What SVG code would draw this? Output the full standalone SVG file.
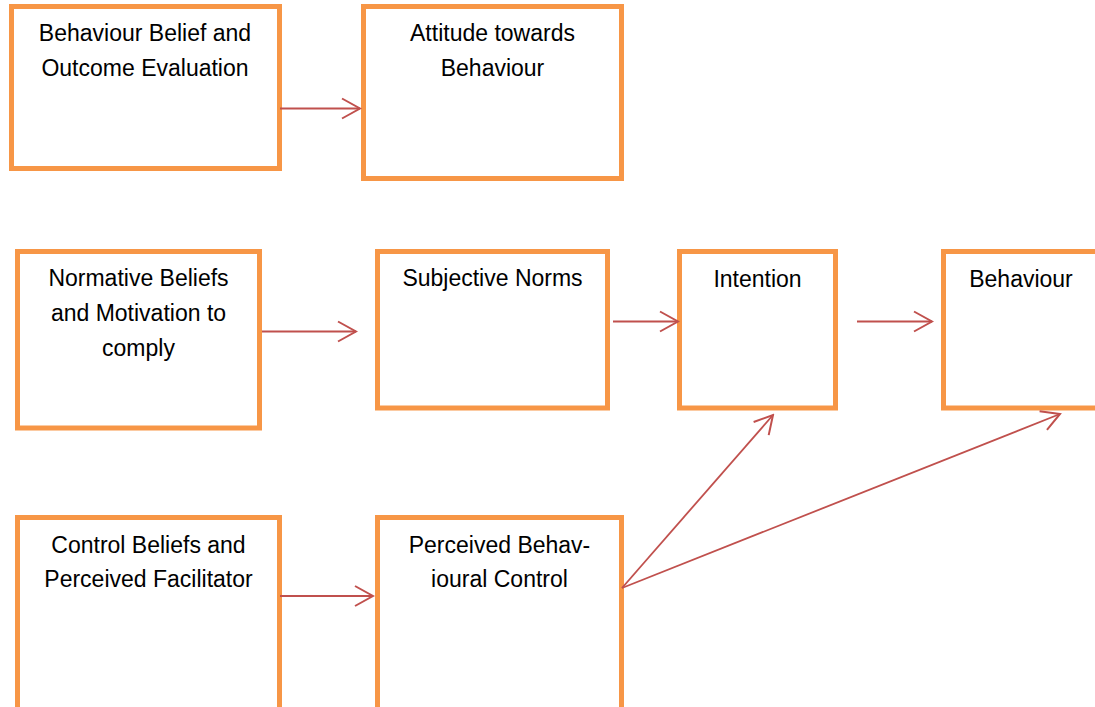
<svg xmlns="http://www.w3.org/2000/svg" width="1095" height="707" viewBox="0 0 1095 707">
<style>
.box{fill:#FFFFFF;stroke:#F79646;stroke-width:5}
.lbl{font-family:"Liberation Sans",Arial,sans-serif;font-size:23px;fill:#000000;text-anchor:middle}
.conn{stroke:#C0504D;stroke-width:1.8;fill:none;marker-end:url(#ah)}
</style>
<defs>
<marker id="ah" markerUnits="userSpaceOnUse" viewBox="-21 -12 23 24" refX="0" refY="0" markerWidth="23" markerHeight="24" orient="auto">
<path d="M-18,-10 L0,0 L-18,10" fill="none" stroke="#C0504D" stroke-width="2"/>
</marker>
</defs>
<rect width="1095" height="707" fill="#FFFFFF"/>
<g id="n-behaviour-belief">
<rect class="box" x="11.5" y="6.5" width="268" height="162"/>
<text class="lbl" x="145" y="41">Behaviour Belief and</text>
<text class="lbl" x="145" y="76">Outcome Evaluation</text>
</g>
<g id="n-attitude">
<rect class="box" x="363.5" y="6.5" width="258" height="172"/>
<text class="lbl" x="492.5" y="41">Attitude towards</text>
<text class="lbl" x="492.5" y="76">Behaviour</text>
</g>
<g id="n-normative">
<rect class="box" x="17.5" y="251.5" width="242" height="176.5"/>
<text class="lbl" x="138.5" y="286">Normative Beliefs</text>
<text class="lbl" x="138.5" y="321">and Motivation to</text>
<text class="lbl" x="138.5" y="356">comply</text>
</g>
<g id="n-subjective">
<rect class="box" x="377.5" y="251.5" width="230" height="156.5"/>
<text class="lbl" x="492.5" y="286">Subjective Norms</text>
</g>
<g id="n-intention">
<rect class="box" x="679.5" y="251.5" width="156" height="156.5"/>
<text class="lbl" x="757.5" y="286.5">Intention</text>
</g>
<g id="n-behaviour">
<rect class="box" x="943.5" y="251.5" width="160" height="156.5"/>
<text class="lbl" x="1021" y="286.5">Behaviour</text>
</g>
<g id="n-control">
<rect class="box" x="17.5" y="517.5" width="262" height="200"/>
<text class="lbl" x="148.5" y="553">Control Beliefs and</text>
<text class="lbl" x="148.5" y="587">Perceived Facilitator</text>
</g>
<g id="n-pbc">
<rect class="box" x="377.5" y="517.5" width="244" height="200"/>
<text class="lbl" x="499.5" y="553">Perceived Behav-</text>
<text class="lbl" x="499.5" y="587">ioural Control</text>
</g>
<g id="connectors">
<line class="conn" x1="280" y1="108.5" x2="360" y2="108.5"/>
<line class="conn" x1="262" y1="331.5" x2="356" y2="331.5"/>
<line class="conn" x1="613" y1="321.5" x2="678" y2="321.5"/>
<line class="conn" x1="857" y1="321.5" x2="932" y2="321.5"/>
<line class="conn" x1="280" y1="596" x2="373" y2="596"/>
<line class="conn" x1="622" y1="588" x2="773" y2="415"/>
<line class="conn" x1="622" y1="588" x2="1060" y2="414"/>
</g>
</svg>
